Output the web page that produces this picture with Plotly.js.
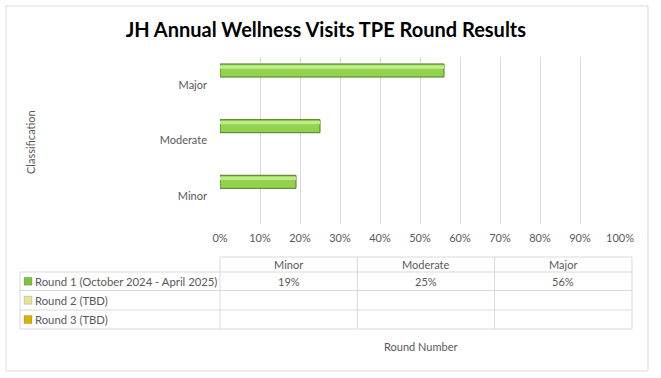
<!DOCTYPE html>
<html>
<head>
<meta charset="utf-8">
<script src="https://cdn.plot.ly/plotly-3.0.1.min.js"></script>
<style>
  html, body { margin: 0; padding: 0; background: #ffffff; }
  #chart { width: 661px; height: 378px; }
</style>
</head>
<body>
<div id="chart"></div>
<script>
// ---- data ----
var categories = ["Minor", "Moderate", "Major"];
var seriesNames = ["Round 1 (October 2024 - April 2025)", "Round 2 (TBD)", "Round 3 (TBD)"];
var round1 = [0.19, 0.25, 0.56];
var round2 = [null, null, null];
var round3 = [null, null, null];
var xTickVals = [0, 0.1, 0.2, 0.3, 0.4, 0.5, 0.6, 0.7, 0.8, 0.9, 1.0];
var xTickText = ["0%", "10%", "20%", "30%", "40%", "50%", "60%", "70%", "80%", "90%", "100%"];
var seriesColors = ["#7fc142", "#e3e39a", "#d9b300"];

var FONT = "Lato, 'Liberation Sans', sans-serif";
var GREY = "#595959";
var LINE = "#d9d9d9";

// plot area in pixels
var W = 661, H = 378;
var L = 220, R = 620, T = 57, B = 224;
function px(x) { return (x - L) / (R - L); }
function py(y) { return (B - y) / (B - T); }

var traces = [
  { type: "bar", orientation: "h", name: seriesNames[2], y: categories, x: round3,
    offset: -0.3, width: 0.23, marker: { color: seriesColors[2] }, hoverinfo: "skip" },
  { type: "bar", orientation: "h", name: seriesNames[1], y: categories, x: round2,
    offset: -0.07, width: 0.23, marker: { color: seriesColors[1] }, hoverinfo: "skip" },
  { type: "bar", orientation: "h", name: seriesNames[0], y: categories, x: round1,
    offset: 0.14, width: 0.235,
    marker: { color: "#92d24e", line: { color: "#4f7d22", width: 1 } }, hoverinfo: "skip" },
  { type: "bar", orientation: "h", name: "hl", y: categories, x: round1,
    offset: 0.29, width: 0.06,
    marker: { color: "#bdec88", line: { width: 0 } }, hoverinfo: "skip" }
];

var shapes = [];
var annotations = [];

// outer chart border
shapes.push({ type: "rect", xref: "paper", yref: "paper",
  x0: px(6), x1: px(648), y0: py(6), y1: py(371),
  line: { color: LINE, width: 1 }, fillcolor: "rgba(0,0,0,0)", layer: "below" });

// data table
var colX = [220, 357.3, 494.6, 632];
var rowY = [257, 272, 290.5, 310, 329];
var tableLeft = 20;
function hline(x0, x1, y) {
  shapes.push({ type: "line", xref: "paper", yref: "paper", x0: px(x0), x1: px(x1), y0: py(y), y1: py(y),
    line: { color: LINE, width: 1 } });
}
function vline(x, y0, y1) {
  shapes.push({ type: "line", xref: "paper", yref: "paper", x0: px(x), x1: px(x), y0: py(y0), y1: py(y1),
    line: { color: LINE, width: 1 } });
}
hline(colX[0], colX[3], rowY[0]);
for (var r = 1; r < rowY.length; r++) hline(tableLeft, colX[3], rowY[r]);
vline(tableLeft, rowY[1], rowY[4]);
for (var c = 0; c < colX.length; c++) vline(colX[c], rowY[0], rowY[4]);

// header
categories.forEach(function (cat, i) {
  annotations.push({ xref: "paper", yref: "paper", x: px((colX[i] + colX[i + 1]) / 2), y: py((rowY[0] + rowY[1]) / 2),
    text: cat, showarrow: false, xanchor: "center", yanchor: "middle",
    font: { family: FONT, size: 11, color: GREY } });
});
// rows
var seriesValues = [round1, round2, round3];
seriesNames.forEach(function (nm, s) {
  var yc = (rowY[s + 1] + rowY[s + 2]) / 2;
  shapes.push({ type: "rect", xref: "paper", yref: "paper",
    x0: px(24), x1: px(32), y0: py(yc - 4), y1: py(yc + 4),
    fillcolor: seriesColors[s], line: { color: "rgba(0,0,0,0.25)", width: 0.5 } });
  annotations.push({ xref: "paper", yref: "paper", x: px(33), y: py(yc),
    text: nm, showarrow: false, xanchor: "left", yanchor: "middle",
    font: { family: FONT, size: 11.3, color: GREY } });
  seriesValues[s].forEach(function (v, i) {
    if (v === null) return;
    annotations.push({ xref: "paper", yref: "paper", x: px((colX[i] + colX[i + 1]) / 2), y: py(yc),
      text: Math.round(v * 100) + "%", showarrow: false, xanchor: "center", yanchor: "middle",
      font: { family: FONT, size: 11, color: GREY } });
  });
});

// axis titles
annotations.push({ xref: "paper", yref: "paper", x: px(30), y: py(142), text: "Classification",
  textangle: -90, showarrow: false, xanchor: "center", yanchor: "middle",
  font: { family: FONT, size: 11, color: GREY } });
annotations.push({ xref: "paper", yref: "paper", x: px(420), y: py(346), text: "Round Number",
  showarrow: false, xanchor: "center", yanchor: "middle",
  font: { family: FONT, size: 11, color: GREY } });

var layout = {
  width: W, height: H,
  margin: { l: L, r: W - R, t: T, b: H - B, pad: 0 },
  paper_bgcolor: "#ffffff", plot_bgcolor: "#ffffff",
  showlegend: false,
  barmode: "overlay",
  title: { text: "<b>JH Annual Wellness Visits TPE Round Results</b>", x: 0.493, xanchor: "center",
    y: 1 - 30 / H, yanchor: "middle",
    font: { family: FONT, size: 20, color: "#000000" } },
  xaxis: { range: [0, 1], tickvals: xTickVals, ticktext: xTickText, showgrid: true, gridcolor: LINE,
    gridwidth: 1, zeroline: false, showline: false, ticks: "", fixedrange: true,
    tickfont: { family: FONT, size: 11, color: GREY }, ticklabelstandoff: 6 },
  yaxis: { type: "category", categoryarray: categories, range: [-0.5, 2.5], showgrid: false,
    zeroline: false, showline: false, ticks: "", fixedrange: true,
    tickfont: { family: FONT, size: 11, color: GREY }, ticklabelstandoff: 12 },
  shapes: shapes,
  annotations: annotations
};

Plotly.newPlot("chart", traces, layout, { displayModeBar: false, staticPlot: true });
</script>
</body>
</html>
